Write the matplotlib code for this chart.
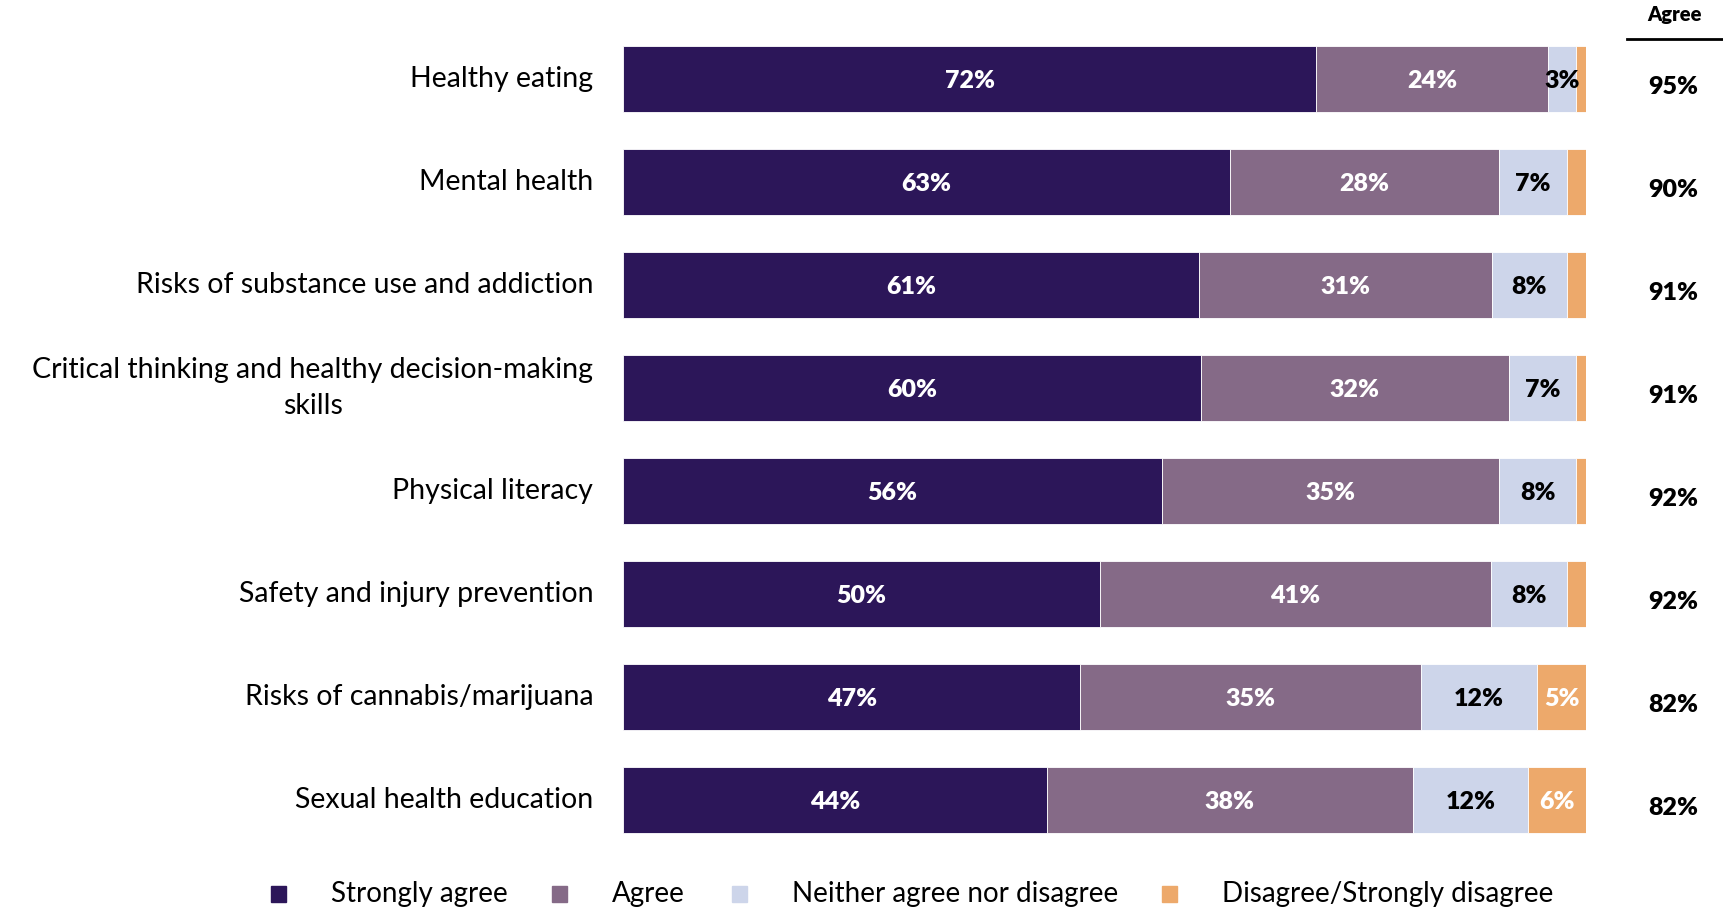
import matplotlib.pyplot as plt
from matplotlib.patches import Rectangle
import numpy as np

plt.rcParams["font.family"] = ["Lato", "DejaVu Sans"]

topics = [
    "Healthy eating",
    "Mental health",
    "Risks of substance use and addiction",
    "Critical thinking and healthy decision-making\nskills",
    "Physical literacy",
    "Safety and injury prevention",
    "Risks of cannabis/marijuana",
    "Sexual health education",
]
strongly_agree = [72, 63, 61, 60, 56, 50, 47, 44]
agree = [24, 28, 31, 32, 35, 41, 35, 38]
neither = [3, 7, 8, 7, 8, 8, 12, 12]
disagree = [1, 2, 2, 1, 1, 2, 5, 6]
agree_total = [95, 90, 91, 91, 92, 92, 82, 82]

series = ["Strongly agree", "Agree", "Neither agree nor disagree", "Disagree/Strongly disagree"]
colors = ["#2C1659", "#856A87", "#CDD5EA", "#EDA96B"]
text_colors = ["white", "white", "black", "white"]

values = np.array([strongly_agree, agree, neither, disagree], dtype=float)
# each row is stretched to fill 100% so the bars end together
shares = values / values.sum(axis=0) * 100

fig = plt.figure(figsize=(17.23, 9.07), dpi=100)
ax = fig.add_axes([0.3616, 0.0612, 0.5589, 0.9085])

y = np.arange(len(topics))
left = np.zeros(len(topics))
for k in range(len(series)):
    ax.barh(y, shares[k], left=left, height=0.64, color=colors[k],
            edgecolor="white", linewidth=0.6)
    for i in range(len(topics)):
        if values[k, i] >= 3:
            ax.text(left[i] + shares[k, i] / 2, y[i] + 0.02, f"{values[k, i]:.0f}%",
                    ha="center", va="center", fontsize=18, fontweight="heavy",
                    color=text_colors[k])
    left += shares[k]

ax.set_xlim(0, 100)
ax.set_ylim(len(topics) - 0.5, -0.5)
ax.axis("off")

# category names to the left of the bars
for i, name in enumerate(topics):
    ax.text(-3.1, y[i], name, ha="right", va="center", fontsize=20.5,
            linespacing=1.45, multialignment="center" if "\n" in name else "right")

# total agree column
for i, v in enumerate(agree_total):
    ax.text(109.1, y[i] + 0.08, f"{v}%", ha="center", va="center",
            fontsize=18, fontweight="heavy")
fig.text(0.9716, 0.984, "Agree", ha="center", va="center", fontsize=14.5,
         fontweight="heavy")
fig.add_artist(plt.Line2D([0.944, 1.0], [0.9575, 0.9575], color="black", lw=2))

# legend row along the bottom
legend_x = [0.1615, 0.3247, 0.4293, 0.6787]
for x0, label, c in zip(legend_x, series, colors):
    fig.add_artist(Rectangle((x0 - 0.0045, 0.005), 0.009, 0.018,
                             transform=fig.transFigure, color=c))
    fig.text(x0 + 0.0305, 0.014, label, ha="left", va="center", fontsize=20)

fig.savefig("out.png", dpi=100)
